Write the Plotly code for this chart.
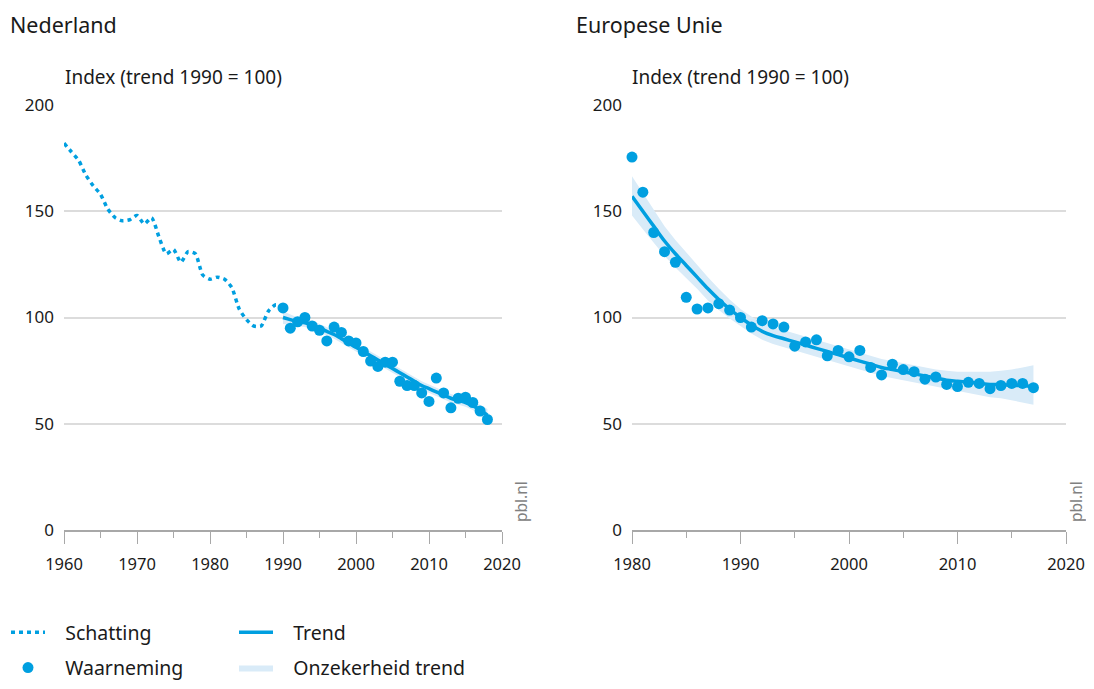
import plotly.graph_objects as go

# ---------------- data ----------------
nl_est_years = list(range(1960, 1991))
nl_est_values = [182, 178, 174, 167, 162, 158, 151, 147, 145.5, 146, 148, 144, 147, 138, 130, 132,
                 126, 131, 130, 120, 118, 119, 118, 114, 104, 99, 96, 96, 103, 106, 105]

nl_obs_years = list(range(1990, 2019))
nl_obs_values = [104.5, 95, 98, 100, 96, 94, 89, 95.5, 93, 89, 88, 84, 79.5, 77, 79, 79, 70, 68, 68,
                 64.5, 60.5, 71.5, 64.5, 57.5, 62, 62.5, 60, 56, 52]
nl_trend = [100, 99, 98, 97.5, 96.5, 95, 93.5, 92, 90, 88, 86, 84, 82, 80, 78, 76, 74, 72, 70,
            68, 66.5, 65, 63.5, 62, 61, 60, 58.5, 56.5, 54]
nl_upper = [103, 101.5, 100, 99.5, 98.5, 97, 95.5, 94, 92, 90, 88, 86, 84, 82, 80, 78, 76, 74, 72,
            70, 68.5, 67, 65.5, 64, 63, 62, 60.5, 59, 57]
nl_lower = [97, 96.5, 96, 95.5, 94.5, 93, 91.5, 90, 88, 86, 84, 82, 80, 78, 76, 74, 72, 70, 68,
            66, 64.5, 63, 61.5, 60, 59, 58, 56.5, 54, 51]

eu_years = list(range(1980, 2018))
eu_obs_values = [175.5, 159, 140, 131, 126, 109.5, 104, 104.5, 106.5, 103.5, 100, 95.5, 98.5, 97, 95.5,
                 86.5, 88.5, 89.5, 82, 84.5, 81.5, 84.5, 76.5, 73, 78, 75.5, 74.5, 71, 72, 68.5,
                 67.5, 69.5, 69, 66.5, 68, 69, 69, 67]
eu_trend = [157, 150, 143, 136, 130, 124.5, 119, 113.5, 108.5, 104, 100, 96.5, 93.5, 91.5, 90, 88.5,
            87, 85.5, 84, 82.5, 81, 79.5, 78, 76.5, 75.5, 74.5, 73.5, 72.5, 71.5, 70.5, 70, 69.5,
            69, 68.5, 68.5, 68, 68, 67.5]
eu_upper = [166.5, 158.5, 151, 143, 136.5, 130.5, 124.5, 119, 113.5, 108.5, 104, 100.5, 97.5, 95.5, 94,
            92.5, 91, 89.5, 88, 86.5, 85, 83.5, 82, 80.5, 79.5, 78.5, 77.5, 76.5, 75.5, 75, 74.5,
            74.5, 74.5, 74.5, 75, 75.5, 76.5, 77.5]
eu_lower = [148, 141.5, 135, 129, 123.5, 118.5, 113.5, 108, 103.5, 99.5, 96, 92.5, 89.5, 87.5, 86,
            84.5, 83, 81.5, 80, 78.5, 77, 75.5, 74, 72.5, 71.5, 70.5, 69.5, 68.5, 67.5, 66.5, 65.5,
            64.5, 63.5, 62.5, 62, 61, 60, 59]

y_ticks = [0, 50, 100, 150, 200]
nl_x_ticks = [1960, 1970, 1980, 1990, 2000, 2010, 2020]
eu_x_ticks = [1980, 1990, 2000, 2010, 2020]

# ---------------- style ----------------
BLUE = "#009fe0"
BAND = "#d9ebf8"
GRID = "#dcdcdc"
AXIS = "#a8a8a8"
TEXT = "#1a1a1a"
FONT = "Noto Sans"
OFF = 8                      # page body margin of the browser (both sides)
W, H = 1094 - 2 * OFF, 689 - 2 * OFF

def px(x):
    return (x - OFF) / W

def py(y):
    return 1 - (y - OFF) / H

NB = "\u00a0\u00a0\u00a0"

fig = go.Figure()

def band_trace(xs, up, lo, xa, ya, show):
    return go.Scatter(x=xs + xs[::-1], y=up + lo[::-1], fill="toself", fillcolor=BAND,
                      line=dict(width=0, color=BAND), mode="lines", hoverinfo="skip",
                      xaxis=xa, yaxis=ya, name=NB + "Onzekerheid trend", showlegend=show,
                      legend="legend2", legendgroup="d", legendrank=2)

# Netherlands
fig.add_trace(band_trace(nl_obs_years, nl_upper, nl_lower, "x", "y", True))
fig.add_trace(go.Scatter(x=nl_est_years, y=nl_est_values, mode="lines", name=NB + "Schatting",
                         line=dict(color=BLUE, width=3.5, dash="4px,4px", shape="spline", smoothing=0.6),
                         xaxis="x", yaxis="y", legend="legend", legendgroup="a", legendrank=1))
fig.add_trace(go.Scatter(x=nl_obs_years, y=nl_trend, mode="lines", name=NB + "Trend",
                         line=dict(color=BLUE, width=3.5, shape="spline"),
                         xaxis="x", yaxis="y", legend="legend2", legendgroup="c", legendrank=1))
fig.add_trace(go.Scatter(x=nl_obs_years, y=nl_obs_values, mode="markers", name=NB + "Waarneming",
                         marker=dict(color=BLUE, size=11), cliponaxis=False,
                         xaxis="x", yaxis="y", legend="legend", legendgroup="b", legendrank=2))

# EU
fig.add_trace(band_trace(eu_years, eu_upper, eu_lower, "x2", "y2", False))
fig.add_trace(go.Scatter(x=eu_years, y=eu_trend, mode="lines", name="Trend", showlegend=False,
                         line=dict(color=BLUE, width=3.5, shape="spline"),
                         xaxis="x2", yaxis="y2", legend="legend2", legendgroup="c"))
fig.add_trace(go.Scatter(x=eu_years, y=eu_obs_values, mode="markers", name="Waarneming", showlegend=False,
                         marker=dict(color=BLUE, size=11), cliponaxis=False,
                         xaxis="x2", yaxis="y2", legend="legend", legendgroup="b"))

def xaxis(rng, ticks, x0, x1):
    return dict(range=rng, domain=[px(x0), px(x1)], tickvals=ticks, showgrid=False, zeroline=False,
                showline=True, linecolor=AXIS, linewidth=1.5, ticks="outside", ticklen=12,
                tickcolor=AXIS, tickwidth=1.2, tickfont=dict(size=16.5, color=TEXT, family=FONT),
                minor=dict(dtick=5, tick0=1960, ticks="outside", ticklen=6, tickcolor=AXIS, tickwidth=1.2),
                ticklabelstandoff=6, fixedrange=True, automargin=False)

def yaxis(anchor):
    return dict(range=[0, 200], domain=[py(530), py(105)], tickvals=y_ticks, showgrid=True,
                gridcolor=GRID, gridwidth=1.5, zeroline=False, showline=False, ticks="",
                tickfont=dict(size=17, color=TEXT, family=FONT), ticklabelstandoff=9,
                anchor=anchor, fixedrange=True, automargin=False)

ann = []
def text(x, y, s, size, color=TEXT, angle=0, xanchor="left"):
    ann.append(dict(x=px(x), y=py(y), xref="paper", yref="paper", text=s, showarrow=False,
                    xanchor=xanchor, yanchor="middle", textangle=angle,
                    font=dict(size=size, color=color, family=FONT)))

text(8, 24, "Nederland", 21.5)
text(574, 24, "Europese Unie", 21.5)
text(63, 77, "Index (trend 1990 = 100)", 19)
text(630, 77, "Index (trend 1990 = 100)", 19)
text(521, 502, "pbl.nl", 15.5, color="#808080", angle=-90, xanchor="center")
text(1076, 502, "pbl.nl", 15.5, color="#808080", angle=-90, xanchor="center")

legend_common = dict(orientation="v", xref="paper", yref="paper", yanchor="top", xanchor="left",
                     font=dict(size=19.5, color=TEXT, family=FONT), bgcolor="rgba(0,0,0,0)",
                     tracegroupgap=7, itemwidth=34, traceorder="grouped")

fig.update_layout(
    width=W, height=H, margin=dict(l=0, r=0, t=0, b=0, autoexpand=False),
    paper_bgcolor="white", plot_bgcolor="white",
    font=dict(family=FONT, color=TEXT),
    xaxis=xaxis([1960, 2020], nl_x_ticks, 64, 502),
    yaxis=yaxis("x"),
    xaxis2=xaxis([1980, 2020], eu_x_ticks, 632, 1066),
    yaxis2=yaxis("x2"),
    annotations=ann,
    legend=dict(x=px(6), y=py(613), **legend_common),
    legend2=dict(x=px(234), y=py(613), **legend_common),
    showlegend=True,
)

fig.write_html("out.html")
